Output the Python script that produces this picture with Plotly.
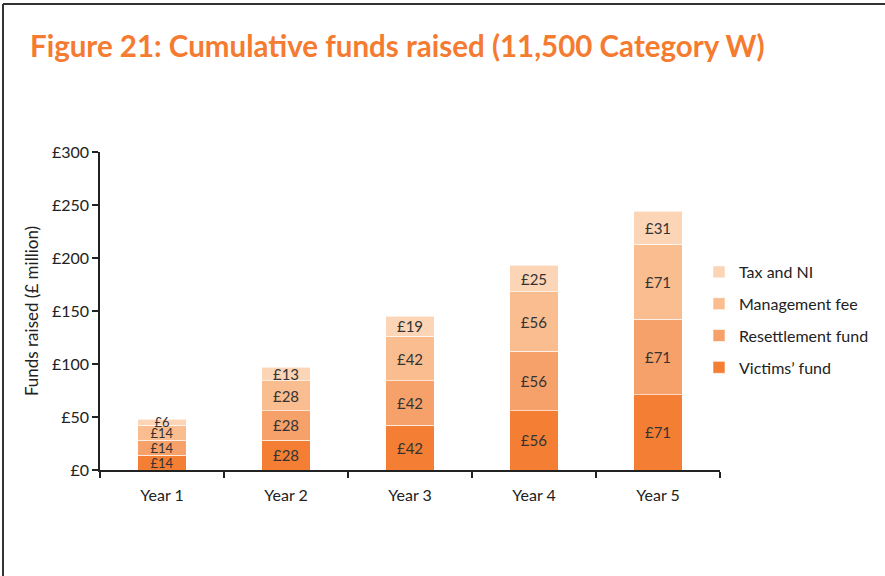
import plotly.graph_objects as go

years = ["Year 1", "Year 2", "Year 3", "Year 4", "Year 5"]
victims_fund = [14, 28, 42, 56, 71]
resettlement_fund = [14, 28, 42, 56, 71]
management_fee = [14, 28, 42, 56, 71]
tax_and_ni = [6, 13, 19, 25, 31]

series = [
    ("Victims\u2019 fund", victims_fund, "#F47F34", 4),
    ("Resettlement fund", resettlement_fund, "#F7A16A", 3),
    ("Management fee", management_fee, "#F9BD90", 2),
    ("Tax and NI", tax_and_ni, "#FCD5B7", 1),
]

FONT = "Lato, 'Open Sans', sans-serif"
W, H = 885, 576
L, R, T, B = 100, 165, 152, 106
pw, ph = W - L - R, H - T - B

label_sizes = [13, 15, 15, 15, 15]

fig = go.Figure()
for name, vals, col, rank in series:
    fig.add_trace(go.Bar(
        x=years, y=vals, name=name, legendgroup=name, legendrank=rank,
        marker=dict(color=col, line=dict(color="rgba(255,255,255,0.6)", width=1)),
        text=[f"\u00a3{v}" for v in vals],
        textposition="inside", insidetextanchor="middle",
        textangle=0, constraintext="none",
        textfont=dict(family=FONT, size=label_sizes, color="#333333"),
        hoverinfo="skip",
    ))

def px2paper_x(px):
    return (px - L) / pw

def px2paper_y(py):
    return (H - B - py) / ph

fig.update_layout(
    width=W, height=H,
    barmode="stack", bargap=0.61,
    plot_bgcolor="white", paper_bgcolor="white",
    margin=dict(l=L, r=R, t=T, b=B, autoexpand=False),
    title=dict(text="<b>Figure 21: Cumulative funds raised (11,500 Category W)</b>",
               x=30 / W, xanchor="left", y=1 - 47 / H, yanchor="middle",
               font=dict(family=FONT, size=29.5, color="#F47B30")),
    font=dict(family=FONT, size=16, color="#222222"),
    legend=dict(traceorder="grouped", tracegroupgap=8,
                x=px2paper_x(699), xanchor="left", y=px2paper_y(255), yanchor="top",
                font=dict(family=FONT, size=16, color="#222222"),
                itemclick=False, itemdoubleclick=False),
    xaxis=dict(showline=True, linecolor="#222222", linewidth=1.5,
               ticks="outside", tickson="boundaries", ticklen=6, tickcolor="#222222",
               tickwidth=1.5, ticklabelstandoff=10,
               tickfont=dict(family=FONT, size=16, color="#222222"), showgrid=False),
    yaxis=dict(range=[0, 300], dtick=50, tickprefix="\u00a3",
               showline=True, linecolor="#222222", linewidth=1.5,
               ticks="outside", ticklen=6, tickcolor="#222222", tickwidth=1.5,
               showgrid=False, zeroline=False,
               tickfont=dict(family=FONT, size=16, color="#222222"),
               title=dict(text="Funds raised (\u00a3 million)", standoff=9,
                          font=dict(family=FONT, size=17, color="#222222"))),
    shapes=[
        dict(type="line", xref="paper", yref="paper",
             x0=px2paper_x(3), x1=px2paper_x(W + 5), y0=px2paper_y(4), y1=px2paper_y(4),
             line=dict(color="#333333", width=2)),
        dict(type="line", xref="paper", yref="paper",
             x0=px2paper_x(3), x1=px2paper_x(3), y0=px2paper_y(4), y1=px2paper_y(H + 5),
             line=dict(color="#333333", width=2)),
    ],
)

fig.write_html("out.html", config={"displayModeBar": False},
               post_script="document.body.style.margin='0';document.body.style.overflow='hidden';")
